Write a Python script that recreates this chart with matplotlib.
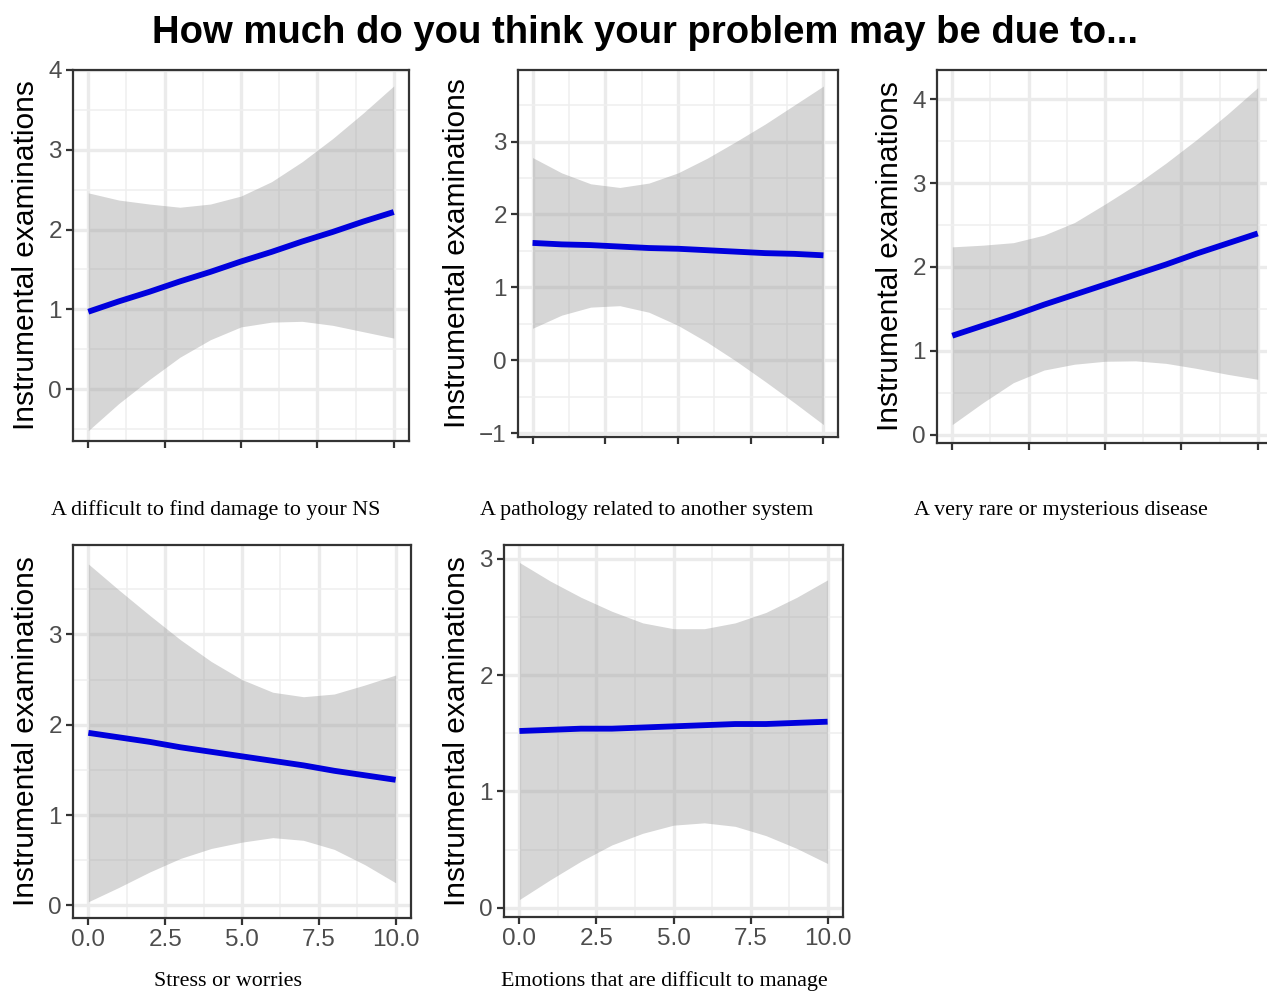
import matplotlib.pyplot as plt
from matplotlib.ticker import MultipleLocator

x_vals = [0, 1, 2, 3, 4, 5, 6, 7, 8, 9, 10]

titles = [
    'A difficult to find damage to your NS',
    'A pathology related to another system',
    'A very rare or mysterious disease',
    'Stress or worries',
    'Emotions that are difficult to manage',
]

# fitted line
fit_ns = [0.97, 1.10, 1.22, 1.35, 1.47, 1.60, 1.72, 1.85, 1.97, 2.10, 2.22]
fit_path = [1.61, 1.59, 1.58, 1.56, 1.54, 1.53, 1.51, 1.49, 1.47, 1.46, 1.44]
fit_rare = [1.18, 1.30, 1.42, 1.55, 1.67, 1.79, 1.91, 2.03, 2.16, 2.28, 2.40]
fit_stress = [1.91, 1.86, 1.81, 1.75, 1.70, 1.65, 1.60, 1.55, 1.49, 1.44, 1.39]
fit_emo = [1.52, 1.53, 1.54, 1.54, 1.55, 1.56, 1.57, 1.58, 1.58, 1.59, 1.60]

# upper / lower confidence band
hi_ns = [2.46, 2.37, 2.32, 2.28, 2.32, 2.42, 2.60, 2.85, 3.14, 3.46, 3.80]
lo_ns = [-0.52, -0.18, 0.12, 0.40, 0.62, 0.78, 0.84, 0.85, 0.80, 0.72, 0.64]
hi_path = [2.78, 2.57, 2.42, 2.37, 2.43, 2.57, 2.77, 3.00, 3.24, 3.50, 3.76]
lo_path = [0.44, 0.62, 0.73, 0.75, 0.66, 0.48, 0.25, -0.01, -0.29, -0.58, -0.88]
hi_rare = [2.24, 2.26, 2.29, 2.38, 2.53, 2.75, 2.98, 3.24, 3.52, 3.82, 4.14]
lo_rare = [0.12, 0.38, 0.62, 0.77, 0.84, 0.875, 0.88, 0.85, 0.79, 0.72, 0.66]
hi_stress = [3.78, 3.49, 3.21, 2.94, 2.70, 2.50, 2.36, 2.31, 2.34, 2.44, 2.55]
lo_stress = [0.04, 0.20, 0.37, 0.52, 0.63, 0.70, 0.75, 0.72, 0.62, 0.45, 0.25]
hi_emo = [2.97, 2.81, 2.67, 2.55, 2.45, 2.40, 2.40, 2.45, 2.54, 2.67, 2.82]
lo_emo = [0.07, 0.24, 0.40, 0.54, 0.64, 0.71, 0.73, 0.70, 0.62, 0.51, 0.38]

fits = [fit_ns, fit_path, fit_rare, fit_stress, fit_emo]
his = [hi_ns, hi_path, hi_rare, hi_stress, hi_emo]
los = [lo_ns, lo_path, lo_rare, lo_stress, lo_emo]
ylims = [(-0.65, 4.0), (-1.05, 3.98), (-0.1, 4.35), (-0.14, 3.99), (-0.08, 3.12)]

W, H = 1267, 992
# panel boxes in pixels: left, top, right, bottom
boxes = [(73, 70, 409, 441), (518, 70, 838, 437), (937, 70, 1273, 443),
         (73, 545, 411, 918), (504, 545, 843, 917)]
label_pos = [(216, 510), (647, 510), (1061, 510), (228, 981), (664, 981)]

fig = plt.figure(figsize=(W / 100, H / 100), dpi=100)
fig.text(645 / W, 1 - 33 / H, 'How much do you think your problem may be due to...',
         ha='center', va='center', fontsize=27.5, fontweight='bold',
         family='Liberation Sans')

for i in range(5):
    l, t, r, b = boxes[i]
    ax = fig.add_axes([l / W, 1 - b / H, (r - l) / W, (b - t) / H])
    ax.fill_between(x_vals, los[i], his[i], color='#999999', alpha=0.4, lw=0)
    ax.plot(x_vals, fits[i], color='#0000DD', lw=4.2, solid_capstyle='butt')
    ax.set_xlim(-0.5, 10.5)
    ax.set_ylim(*ylims[i])
    ax.xaxis.set_minor_locator(MultipleLocator(1.25))
    ax.yaxis.set_major_locator(MultipleLocator(1))
    ax.yaxis.set_minor_locator(MultipleLocator(0.5))
    ax.set_axisbelow(True)
    ax.grid(which='major', color='#EBEBEB', lw=2.4)
    ax.grid(which='minor', color='#EFEFEF', lw=1.1)
    for s in ax.spines.values():
        s.set_color('#333333')
        s.set_linewidth(1.6)
    ax.tick_params(which='major', length=5, width=1.6, color='#333333',
                   labelsize=17.5, labelcolor='#4D4D4D', pad=3)
    ax.tick_params(which='minor', length=0)
    ax.set_xticks([0, 2.5, 5, 7.5, 10])
    ax.set_xticklabels(['0.0', '2.5', '5.0', '7.5', '10.0'], family='Liberation Sans')
    for lab in ax.get_yticklabels():
        lab.set_family('Liberation Sans')
    if i < 3:
        ax.tick_params(axis='x', labelbottom=False)
    ax.set_ylabel('Instrumental examinations', fontsize=21.5,
                  family='Liberation Sans', labelpad=6)
    fig.text(label_pos[i][0] / W, 1 - label_pos[i][1] / H, titles[i],
             ha='center', va='center', fontsize=15.8, family='Liberation Serif')

plt.savefig('out.png', dpi=100)
